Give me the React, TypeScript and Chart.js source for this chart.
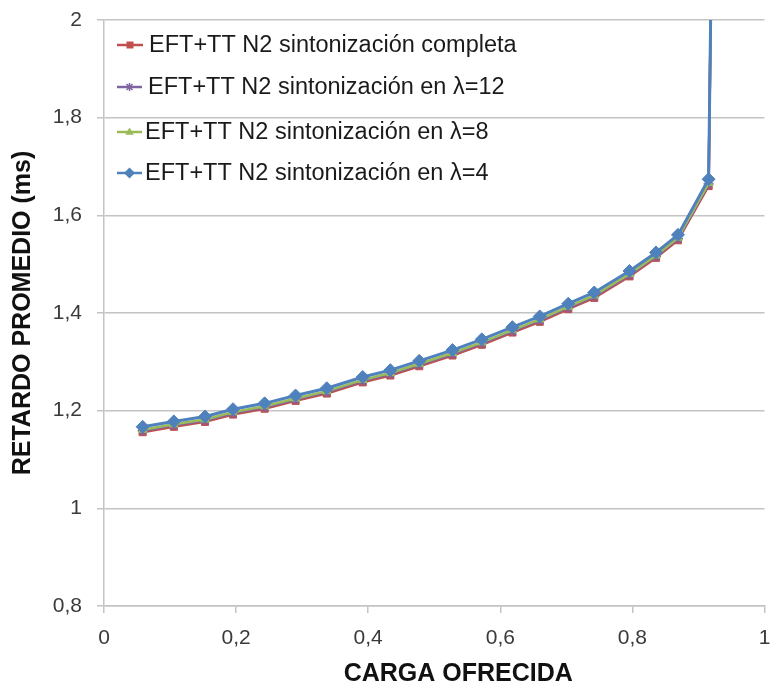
import React, { useEffect, useRef } from 'react';
import { Chart, registerables } from 'chart.js';

Chart.register(...registerables);

// Offered load (x) for every sample, shared by all four series
const carga = [
  0.0585, 0.1057, 0.153, 0.1953, 0.2432, 0.29, 0.3373, 0.3917, 0.4335, 0.4773,
  0.5276, 0.572, 0.6183, 0.6597, 0.7029, 0.7422, 0.7956, 0.8358, 0.869, 0.9154, 0.924,
];

// Average delay (ms) per series
const completa = [
  1.156, 1.167, 1.177, 1.192, 1.204, 1.22, 1.235, 1.258, 1.272, 1.291,
  1.313, 1.335, 1.36, 1.382, 1.408, 1.431, 1.475, 1.513, 1.549, 1.66, 2.6,
];
const lambda12 = [
  1.159, 1.17, 1.18, 1.195, 1.207, 1.223, 1.238, 1.261, 1.275, 1.294,
  1.316, 1.338, 1.363, 1.385, 1.411, 1.434, 1.478, 1.516, 1.552, 1.664, 2.6,
];
const lambda8 = [
  1.161, 1.172, 1.182, 1.197, 1.209, 1.225, 1.24, 1.263, 1.277, 1.296,
  1.318, 1.34, 1.365, 1.387, 1.413, 1.436, 1.48, 1.518, 1.554, 1.666, 2.6,
];
const lambda4 = [
  1.167, 1.178, 1.188, 1.203, 1.215, 1.231, 1.246, 1.269, 1.283, 1.302,
  1.324, 1.346, 1.371, 1.393, 1.419, 1.442, 1.486, 1.524, 1.56, 1.674, 2.6,
];

const seriesNames = [
  'EFT+TT N2 sintonización completa',
  'EFT+TT N2 sintonización en λ=12',
  'EFT+TT N2 sintonización en λ=8',
  'EFT+TT N2 sintonización en λ=4',
];

const xTitle = 'CARGA OFRECIDA';
const yTitle = 'RETARDO PROMEDIO (ms)';

const FONT = "'Liberation Sans', Arial, sans-serif";

type Marker = 'rect' | 'star' | 'triangle' | 'rectRot';

const seriesStyle: { color: string; marker: Marker; radius: number; width: number; legendR: number }[] = [
  { color: '#C0504D', marker: 'rect', radius: 5, width: 2.5, legendR: 3.5 },
  { color: '#8064A2', marker: 'star', radius: 5, width: 2.5, legendR: 4 },
  { color: '#9BBB59', marker: 'triangle', radius: 5, width: 2.5, legendR: 4.5 },
  { color: '#4F81BD', marker: 'rectRot', radius: 6.5, width: 3, legendR: 5.5 },
];

// Legend rows, offsets from the top-left corner of the plot area
const legendRows = [
  { dy: 25, x0: 13, x1: 39, tx: 45 },
  { dy: 67, x0: 13, x1: 38, tx: 44 },
  { dy: 112, x0: 13, x1: 38, tx: 41 },
  { dy: 153, x0: 13, x1: 38, tx: 41 },
];

const fmt = (v: number) => String(Math.round(v * 10) / 10).replace('.', ',');

function drawMarker(ctx: CanvasRenderingContext2D, m: Marker, x: number, y: number, r: number, color: string) {
  ctx.save();
  ctx.fillStyle = color;
  ctx.strokeStyle = color;
  ctx.lineWidth = 1.5;
  ctx.beginPath();
  if (m === 'rect') {
    ctx.rect(x - r, y - r, 2 * r, 2 * r);
    ctx.fill();
  } else if (m === 'rectRot') {
    ctx.moveTo(x, y - r);
    ctx.lineTo(x + r, y);
    ctx.lineTo(x, y + r);
    ctx.lineTo(x - r, y);
    ctx.closePath();
    ctx.fill();
  } else if (m === 'triangle') {
    ctx.moveTo(x, y - r);
    ctx.lineTo(x + r * 0.95, y + r * 0.6);
    ctx.lineTo(x - r * 0.95, y + r * 0.6);
    ctx.closePath();
    ctx.fill();
  } else {
    const d = r * 0.75;
    ctx.moveTo(x - d, y - d);
    ctx.lineTo(x + d, y + d);
    ctx.moveTo(x + d, y - d);
    ctx.lineTo(x - d, y + d);
    ctx.moveTo(x, y - r);
    ctx.lineTo(x, y + r);
    ctx.stroke();
  }
  ctx.restore();
}

const legendPlugin = {
  id: 'seriesLegend',
  afterDraw(chart: any) {
    const { ctx, chartArea } = chart;
    ctx.save();
    legendRows.forEach((row, i) => {
      const s = seriesStyle[i];
      const y = chartArea.top + row.dy;
      ctx.strokeStyle = s.color;
      ctx.lineWidth = 2.5;
      ctx.beginPath();
      ctx.moveTo(chartArea.left + row.x0, y);
      ctx.lineTo(chartArea.left + row.x1, y);
      ctx.stroke();
      drawMarker(ctx, s.marker, chartArea.left + (row.x0 + row.x1) / 2, y, s.legendR, s.color);
      ctx.fillStyle = '#1a1a1a';
      ctx.font = `23.5px ${FONT}`;
      ctx.textAlign = 'left';
      ctx.textBaseline = 'middle';
      ctx.fillText(seriesNames[i], chartArea.left + row.tx, y + 1);
    });
    ctx.restore();
  },
};

const xTitlePlugin = {
  id: 'xAxisTitle',
  afterDraw(chart: any) {
    const { ctx, chartArea } = chart;
    ctx.save();
    ctx.fillStyle = '#111';
    ctx.font = `bold 25px ${FONT}`;
    ctx.textAlign = 'center';
    ctx.textBaseline = 'middle';
    ctx.fillText(xTitle, (chartArea.left + chartArea.right) / 2 + 24, chart.height - 12);
    ctx.restore();
  },
};

export default function App() {
  const canvasRef = useRef<HTMLCanvasElement | null>(null);

  useEffect(() => {
    if (!canvasRef.current) return;
    const seriesValues = [completa, lambda12, lambda8, lambda4];
    const chart = new Chart(canvasRef.current, {
      type: 'line',
      data: {
        datasets: seriesValues.map((vals, i) => ({
          label: seriesNames[i],
          data: carga.map((x, j) => ({ x, y: vals[j] })),
          borderColor: seriesStyle[i].color,
          backgroundColor: seriesStyle[i].color,
          borderWidth: seriesStyle[i].width,
          pointStyle: seriesStyle[i].marker,
          pointRadius: seriesStyle[i].radius,
          pointBorderWidth: seriesStyle[i].marker === 'star' ? 1.5 : 1,
          pointBorderColor: seriesStyle[i].color,
          pointBackgroundColor: seriesStyle[i].color,
          tension: 0,
          fill: false,
          order: 4 - i,
        })),
      },
      options: {
        animation: false,
        responsive: false,
        maintainAspectRatio: false,
        layout: { padding: { top: 20, right: 6, left: 0, bottom: 0 } },
        plugins: {
          legend: { display: false },
          tooltip: { enabled: false },
        },
        scales: {
          x: {
            type: 'linear',
            min: 0,
            max: 1,
            afterFit: (scale: any) => {
              scale.height = 80;
              scale.paddingLeft = 0;
              scale.paddingRight = 0;
            },
            ticks: {
              stepSize: 0.2,
              padding: 13,
              color: '#3a3a3a',
              font: { family: FONT, size: 21 },
              callback: (v: any) => fmt(Number(v)),
              maxRotation: 0,
            },
            grid: {
              drawOnChartArea: false,
              drawTicks: true,
              tickLength: 7,
              color: '#c4c4c4',
              lineWidth: 1.5,
            },
            border: { color: '#c4c4c4', width: 1.5 },
          },
          y: {
            type: 'linear',
            min: 0.8,
            max: 2,
            afterFit: (scale: any) => {
              scale.width = 104;
              scale.paddingTop = 0;
              scale.paddingBottom = 0;
            },
            ticks: {
              stepSize: 0.2,
              padding: 15,
              color: '#3a3a3a',
              font: { family: FONT, size: 21 },
              callback: (v: any) => fmt(Number(v)),
            },
            grid: {
              drawTicks: true,
              tickLength: 7,
              color: '#c4c4c4',
              lineWidth: 1.5,
            },
            border: { color: '#c4c4c4', width: 1.5 },
            title: {
              display: true,
              text: yTitle,
              color: '#111',
              font: { family: FONT, size: 25, weight: 'bold' },
              padding: { top: 8, bottom: 0 },
            },
          },
        },
      },
      plugins: [legendPlugin, xTitlePlugin],
    } as any);
    return () => chart.destroy();
  }, []);

  return (
    <div style={{ position: 'fixed', left: 0, top: 0, width: 772, height: 686, background: '#fff' }}>
      <canvas ref={canvasRef} width={772} height={686} style={{ display: 'block' }} />
    </div>
  );
}
